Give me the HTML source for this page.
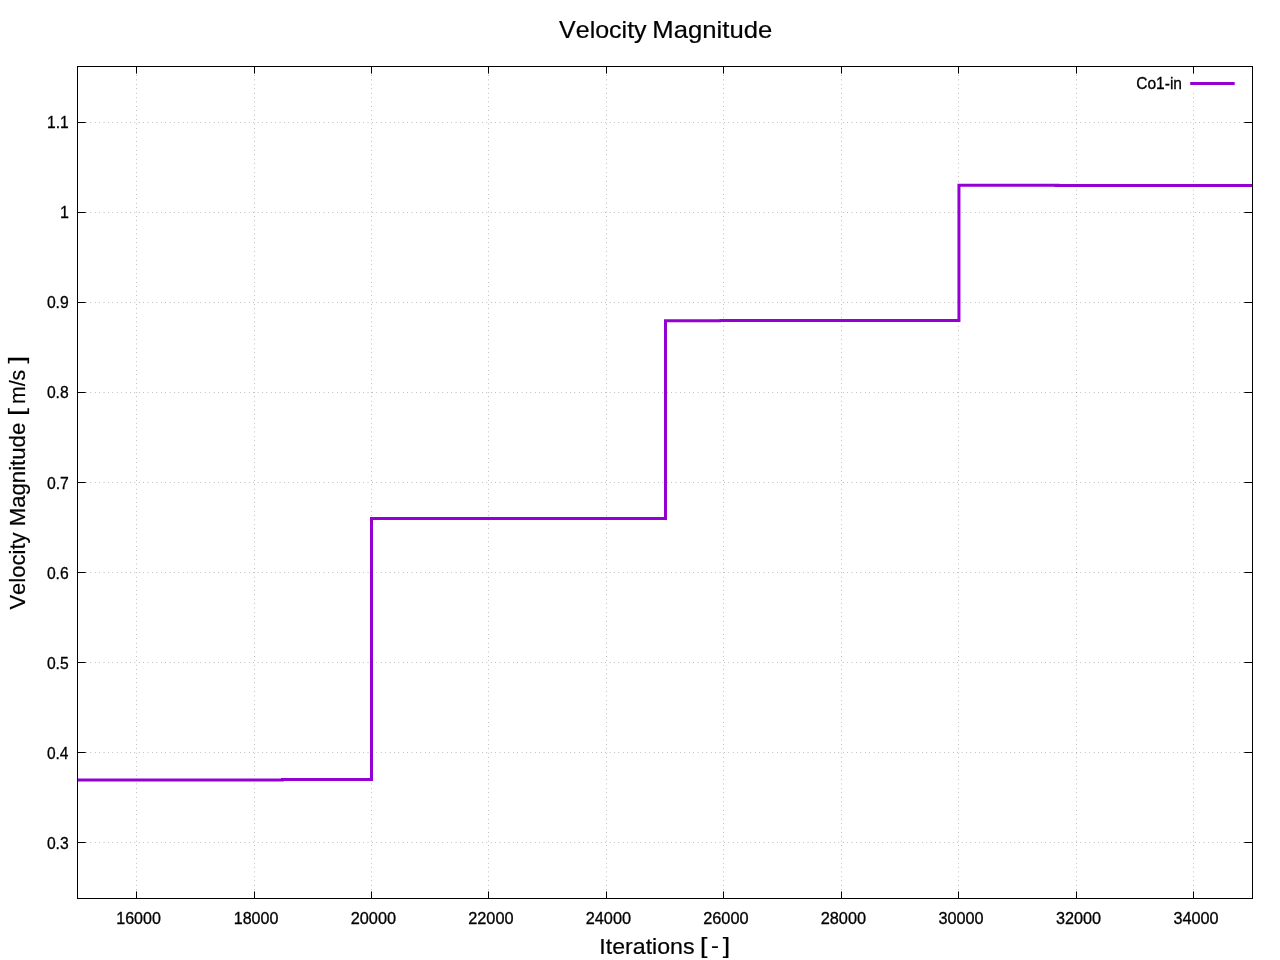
<!DOCTYPE html>
<html><head><meta charset="utf-8"><title>Velocity Magnitude</title>
<style>
html,body{margin:0;padding:0;background:#fff;width:1280px;height:960px;overflow:hidden}
svg{will-change:transform;display:block;position:absolute;left:0;top:0}
text{font-family:"Liberation Sans",sans-serif;fill:#000;stroke:#000;font-kerning:none}
.g{stroke:#000;stroke-width:0.42;stroke-dasharray:0.6 3.8;fill:none}
.k{stroke:#000;stroke-width:1;fill:none}
.d{stroke:#9400d3;stroke-width:3;fill:none;stroke-linejoin:miter;stroke-linecap:butt}
</style></head><body>
<svg width="1280" height="960" viewBox="0 0 1280 960">
<rect x="0" y="0" width="1280" height="960" fill="#fff"/>
<g class="g" stroke-dashoffset="0.15">
<path d="M77.5 122.5H1252.5"/>
<path d="M77.5 212.5H1252.5"/>
<path d="M77.5 302.5H1252.5"/>
<path d="M77.5 392.5H1252.5"/>
<path d="M77.5 482.5H1252.5"/>
<path d="M77.5 572.5H1252.5"/>
<path d="M77.5 662.5H1252.5"/>
<path d="M77.5 752.5H1252.5"/>
<path d="M77.5 842.5H1252.5"/>
<path d="M136.5 898.5V66.5"/>
<path d="M254.5 898.5V66.5"/>
<path d="M371.5 898.5V66.5"/>
<path d="M488.5 898.5V66.5"/>
<path d="M606.5 898.5V66.5"/>
<path d="M723.5 898.5V66.5"/>
<path d="M841.5 898.5V66.5"/>
<path d="M958.5 898.5V66.5"/>
<path d="M1076.5 898.5V66.5"/>
<path d="M1193.5 898.5V66.5"/>
</g>
<rect x="1130" y="74" width="112" height="18" fill="#fff"/>
<path class="d" d="M77.5 780.1H283.8M281 779.5H371.5V518.5H665.5V320.75H721.1M719.6 320.5H958.95V185.3H1059.6M1054.5 185.5H1252.5"/>
<g class="k">
<path d="M77.5 122.5h8.2M1252.5 122.5h-8.2M77.5 212.5h8.2M1252.5 212.5h-8.2M77.5 302.5h8.2M1252.5 302.5h-8.2M77.5 392.5h8.2M1252.5 392.5h-8.2M77.5 482.5h8.2M1252.5 482.5h-8.2M77.5 572.5h8.2M1252.5 572.5h-8.2M77.5 662.5h8.2M1252.5 662.5h-8.2M77.5 752.5h8.2M1252.5 752.5h-8.2M77.5 842.5h8.2M1252.5 842.5h-8.2M136.5 898.5v-7.1M136.5 66.5v7.1M254.5 898.5v-7.1M254.5 66.5v7.1M371.5 898.5v-7.1M371.5 66.5v7.1M488.5 898.5v-7.1M488.5 66.5v7.1M606.5 898.5v-7.1M606.5 66.5v7.1M723.5 898.5v-7.1M723.5 66.5v7.1M841.5 898.5v-7.1M841.5 66.5v7.1M958.5 898.5v-7.1M958.5 66.5v7.1M1076.5 898.5v-7.1M1076.5 66.5v7.1M1193.5 898.5v-7.1M1193.5 66.5v7.1"/>
<rect x="77.5" y="66.5" width="1175.0" height="832.0"/>
</g>
<path class="d" d="M1190.2 83.5H1234.7"/>
<text x="1136.21" y="88.9" font-size="16" stroke-width="0.3" textLength="45.80" lengthAdjust="spacingAndGlyphs">Co1-in</text>
<text x="559.09" y="37.8" font-size="24" stroke-width="0.2" textLength="87.56" lengthAdjust="spacingAndGlyphs">Velocity</text>
<text x="652.39" y="37.8" font-size="24" stroke-width="0.2" textLength="119.85" lengthAdjust="spacingAndGlyphs">Magnitude</text>
<text x="599.36" y="953.5" font-size="21.33" stroke-width="0.2" textLength="95.17" lengthAdjust="spacingAndGlyphs">Iterations</text>
<text x="700.00" y="953.05" font-size="22.9" stroke-width="0.2" textLength="7.41" lengthAdjust="spacingAndGlyphs">[</text>
<text x="711.14" y="952.6" font-size="21.33" stroke-width="0.2" textLength="7.91" lengthAdjust="spacingAndGlyphs">-</text>
<text x="722.79" y="953.05" font-size="22.9" stroke-width="0.2" textLength="7.41" lengthAdjust="spacingAndGlyphs">]</text>
<g transform="translate(24.5 609.5) rotate(-90)"><text x="-0.10" y="0" font-size="21.33" stroke-width="0.2" textLength="77.14" lengthAdjust="spacingAndGlyphs">Velocity</text><text x="83.18" y="0" font-size="21.33" stroke-width="0.2" textLength="103.61" lengthAdjust="spacingAndGlyphs">Magnitude</text><text x="193.62" y="-0.85" font-size="22.9" stroke-width="0.2" textLength="8.11" lengthAdjust="spacingAndGlyphs">[</text><text x="205.49" y="0" font-size="21.33" stroke-width="0.2" textLength="34.28" lengthAdjust="spacingAndGlyphs">m/s</text><text x="246.09" y="-0.85" font-size="22.9" stroke-width="0.2" textLength="7.55" lengthAdjust="spacingAndGlyphs">]</text></g>
<text x="116.28" y="923.7" font-size="16" stroke-width="0.3" textLength="44.60" lengthAdjust="spacingAndGlyphs">16000</text>
<text x="233.78" y="923.7" font-size="16" stroke-width="0.3" textLength="44.60" lengthAdjust="spacingAndGlyphs">18000</text>
<text x="350.73" y="923.7" font-size="16" stroke-width="0.3" textLength="45.36" lengthAdjust="spacingAndGlyphs">20000</text>
<text x="468.23" y="923.7" font-size="16" stroke-width="0.3" textLength="45.36" lengthAdjust="spacingAndGlyphs">22000</text>
<text x="585.73" y="923.7" font-size="16" stroke-width="0.3" textLength="45.36" lengthAdjust="spacingAndGlyphs">24000</text>
<text x="703.23" y="923.7" font-size="16" stroke-width="0.3" textLength="45.36" lengthAdjust="spacingAndGlyphs">26000</text>
<text x="820.73" y="923.7" font-size="16" stroke-width="0.3" textLength="45.36" lengthAdjust="spacingAndGlyphs">28000</text>
<text x="938.43" y="923.7" font-size="16" stroke-width="0.3" textLength="45.15" lengthAdjust="spacingAndGlyphs">30000</text>
<text x="1055.93" y="923.7" font-size="16" stroke-width="0.3" textLength="45.15" lengthAdjust="spacingAndGlyphs">32000</text>
<text x="1173.43" y="923.7" font-size="16" stroke-width="0.3" textLength="45.15" lengthAdjust="spacingAndGlyphs">34000</text>
<text x="47.11" y="128" font-size="16" stroke-width="0.3" textLength="21.65" lengthAdjust="spacingAndGlyphs">1.1</text>
<text x="59.88" y="218" font-size="16" stroke-width="0.3" textLength="8.90" lengthAdjust="spacingAndGlyphs">1</text>
<text x="46.89" y="308" font-size="16" stroke-width="0.3" textLength="21.86" lengthAdjust="spacingAndGlyphs">0.9</text>
<text x="46.89" y="398" font-size="16" stroke-width="0.3" textLength="21.79" lengthAdjust="spacingAndGlyphs">0.8</text>
<text x="46.88" y="489" font-size="16" stroke-width="0.3" textLength="21.91" lengthAdjust="spacingAndGlyphs">0.7</text>
<text x="46.89" y="579" font-size="16" stroke-width="0.3" textLength="21.80" lengthAdjust="spacingAndGlyphs">0.6</text>
<text x="46.89" y="669" font-size="16" stroke-width="0.3" textLength="21.77" lengthAdjust="spacingAndGlyphs">0.5</text>
<text x="46.89" y="759" font-size="16" stroke-width="0.3" textLength="21.56" lengthAdjust="spacingAndGlyphs">0.4</text>
<text x="46.89" y="849" font-size="16" stroke-width="0.3" textLength="21.80" lengthAdjust="spacingAndGlyphs">0.3</text>
</svg></body></html>
